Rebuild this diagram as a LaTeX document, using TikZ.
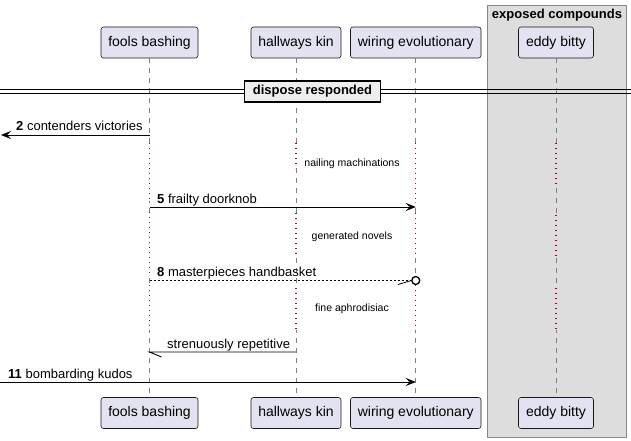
\documentclass[tikz,border=0pt]{standalone}
\usepackage{fontspec}
\setmainfont{Liberation Sans}
\usetikzlibrary{arrows.meta}
\definecolor{partfill}{HTML}{E2E2F0}
\definecolor{partline}{HTML}{181818}
\definecolor{grpfill}{HTML}{DDDDDD}
\definecolor{grpline}{HTML}{888888}
\definecolor{lifecol}{HTML}{808080}
\definecolor{delayred}{HTML}{A80036}
\definecolor{divfill}{HTML}{EEEEEE}
\begin{document}
\begin{tikzpicture}[x=1pt,y=-1pt,
  part/.style={draw=partline, fill=partfill, rounded corners=2.5pt, line width=0.6pt,
    minimum height=31pt, inner sep=0pt, font=\fontsize{14}{16}\selectfont},
  life/.style={draw=lifecol, line width=0.7pt, dash pattern=on 5pt off 5pt},
  dots/.style={draw=delayred, line width=1.1pt, dash pattern=on 1.1pt off 3.9pt},
  msg/.style={line width=0.9pt, draw=black},
  lbl/.style={font=\fontsize{13}{15}\selectfont, inner sep=0pt, anchor=base west},
  dtext/.style={font=\fontsize{10.5}{12}\selectfont, inner sep=0pt},
  head/.style={-{Stealth[length=10pt,width=8pt,inset=4pt]}}
]
\useasboundingbox (0,0) rectangle (631,441);

% group box
\draw[fill=grpfill, draw=grpline, line width=1pt] (487.5,5.5) rectangle (626.5,437);
\node[font=\fontsize{13}{15}\selectfont\bfseries, inner sep=0pt] (grp) at (557,15) {exposed compounds};

% participants
\node[part, minimum width=97pt] (fbT) at (149.5,42.5) {fools bashing};
\node[part, minimum width=90pt] (hkT) at (296,42.5) {hallways kin};
\node[part, minimum width=130.5pt] (weT) at (415.75,42.5) {wiring evolutionary};
\node[part, minimum width=75pt] (ebT) at (556,42.5) {eddy bitty};

\node[part, minimum width=97pt] (fbB) at (149.5,413) {fools bashing};
\node[part, minimum width=90pt] (hkB) at (296,413) {hallways kin};
\node[part, minimum width=130.5pt] (weB) at (415.75,413) {wiring evolutionary};
\node[part, minimum width=75pt] (ebB) at (556,413) {eddy bitty};

% lifelines
\draw[life] (fbT.south) -- (fbB.north);
\draw[life] (hkT.south) -- (hkB.north);
\draw[life] (weT.south) -- (weB.north);
\draw[life] (ebT.south) -- (ebB.north);

% delay segments
\foreach \p/\a/\b/\bg in {fbT/143/201/white, fbT/212/275/white, fbT/285/330/white,
                      hkT/143/168/white, hkT/213/257/white, hkT/288/330/white,
                      weT/143/202/white, weT/213/257/white, weT/285/330/white,
                      ebT/143/185/grpfill, ebT/215/257/grpfill, ebT/288/330/grpfill}{
  \draw[draw=\bg, line width=1.6pt] (\p.center |- 0,\a) -- (\p.center |- 0,\b);
  \draw[dots] (\p.center |- 0,\a) -- (\p.center |- 0,\b);
}

% divider
\draw[line width=0.8pt] (0,89) -- (631,89);
\draw[line width=0.8pt] (0,93) -- (631,93);
\node[draw=black, fill=divfill, line width=1.9pt, minimum width=136pt, minimum height=20.5pt,
  inner sep=0pt, font=\fontsize{13}{15}\selectfont\bfseries] (div) at (312.5,91.5) {dispose responded};

% message 2
\coordinate (lft2) at (1,135);
\draw[msg, head] (fbT.center |- 0,135) -- (lft2);
\node[lbl] (l2) at (16,131) {\textbf{2} contenders victories};

% delay 1
\node[dtext] (d1) at (352,164) {nailing machinations};

% message 5
\draw[msg, head] (fbT.center |- 0,207) -- (weT.center |- 0,207);
\node[lbl] (l5) at (157,203) {\textbf{5} frailty doorknob};

% delay 2
\node[dtext] (d2) at (352,237) {generated novels};

% message 8
\coordinate (c8) at (415.75,280.5);
\draw[line width=0.8pt, dash pattern=on 2pt off 2pt] (fbT.center |- 0,280.5) -- (411.5,280.5);
\draw[line width=0.8pt] (398,284.5) -- (411.5,280.5);
\draw[line width=1.3pt, fill=white] (c8) circle (4pt);
\node[lbl] (l8) at (157,276.5) {\textbf{8} masterpieces handbasket};

% delay 3
\node[dtext] (d3) at (352,309) {fine aphrodisiac};

% strenuously repetitive
\draw[msg] (hkT.center |- 0,352) -- (fbT.center |- 0,352) -- ++(12,5);
\node[lbl] (l9) at (167,348) {strenuously repetitive};

% message 11
\coordinate (lft11) at (0,382);
\draw[msg, head] (lft11) -- (weT.center |- 0,382);
\node[lbl] (l11) at (8,378) {\textbf{11} bombarding kudos};
\end{tikzpicture}
\end{document}
